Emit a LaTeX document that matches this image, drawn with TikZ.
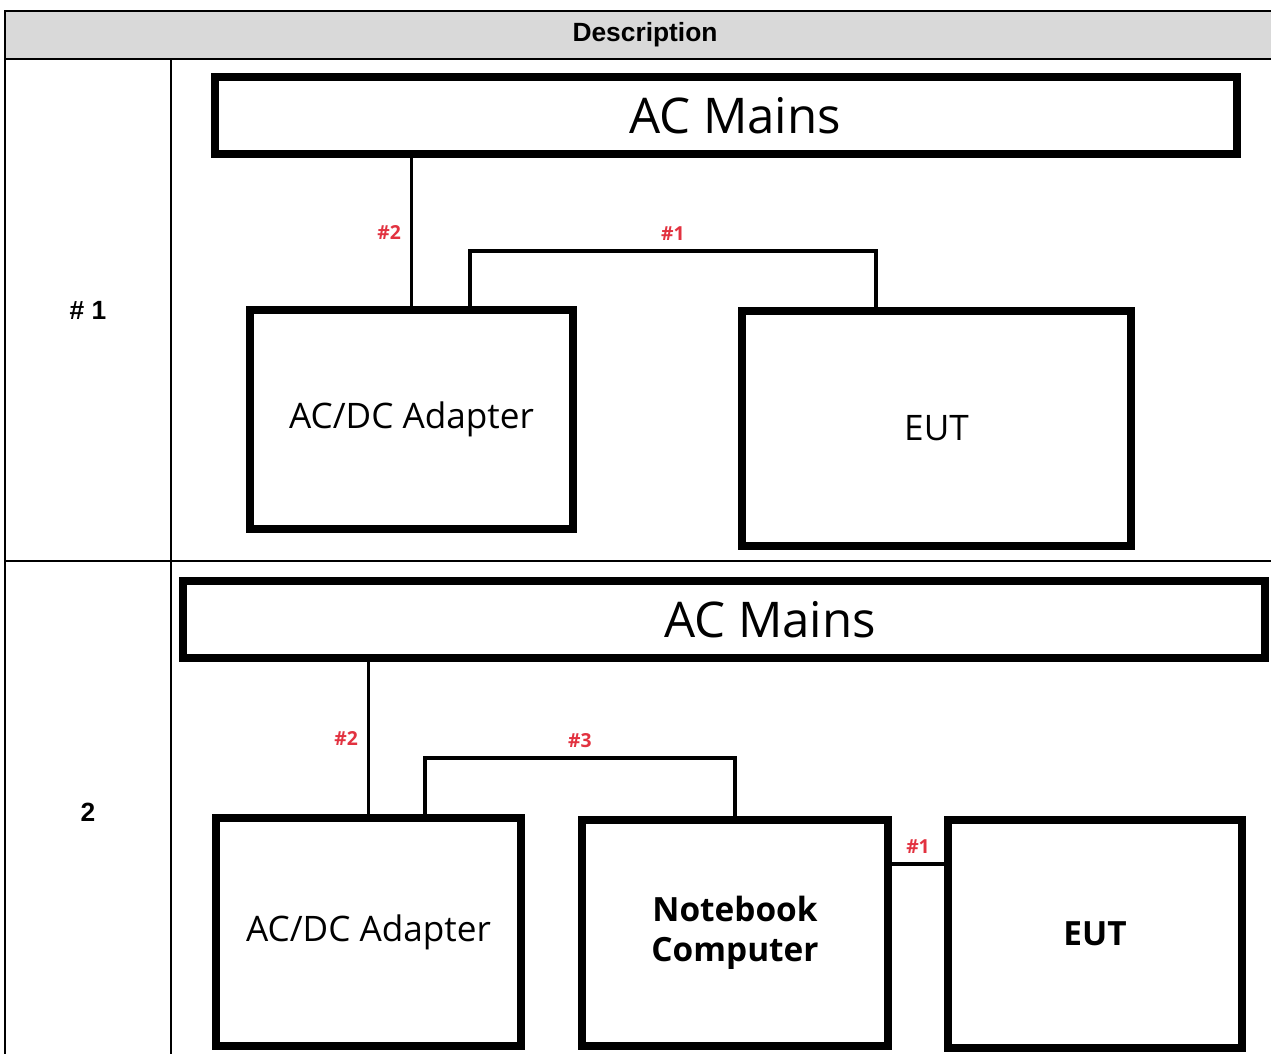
\documentclass[tikz,border=0pt]{standalone}
\usepackage{fontspec}
\setmainfont{Liberation Sans}
\newfontfamily\diagfont{Open Sans}
\definecolor{hdrgray}{RGB}{217,217,217}
\definecolor{tagred}{RGB}{226,50,64}
\usetikzlibrary{positioning}

\begin{document}
\begin{tikzpicture}[x=0.02cm,y=-0.02cm,
    grid/.style={line width=1.1pt},
    unit/.style={draw,line width=4.6pt,inner sep=0pt,align=center,
                 font=\diagfont\fontsize{20}{23}\selectfont},
    boldunit/.style={unit,font=\diagfont\bfseries\fontsize{19}{23}\selectfont},
    mains/.style={unit,minimum height=1.54cm},
    mainstext/.style={font=\diagfont\fontsize{28}{32}\selectfont,inner sep=0pt},
    wire/.style={line width=2.2pt},
    tag/.style={text=tagred,inner sep=1pt,
                font=\diagfont\bfseries\fontsize{11}{13}\selectfont},
    rowno/.style={font=\bfseries\fontsize{15}{18}\selectfont}]
  \useasboundingbox (0,0) rectangle (1271,1054);
  % table frame
  \fill[hdrgray] (5,11) rectangle (1271,59);
  \node[rowno] (desc) at (645,35) {Description};
  \draw[grid] (1271,11) -- (5,11) -- (5,1054);
  \draw[grid] (5,59) -- (1271,59);
  \draw[grid] (5,561) -- (1271,561);
  \draw[line width=0.9pt] (171,59) -- (171,1054);
  \node[rowno] (rowA) at (88,310) {\# 1};
  \node[rowno] (rowB) at (88,812) {2};

  % row 1
  \node[mains,minimum width=20.44cm,
        label={[mainstext,xshift=0.18cm]center:AC Mains}]
        (mainsA) at (726,115.5) {};
  \node[unit,minimum width=6.46cm,minimum height=4.38cm]
        (adapterA) at (411.5,419.5) {AC/DC Adapter};
  \node[unit,minimum width=7.78cm,minimum height=4.7cm]
        (eutA) at (936.5,428.5) {EUT};
  \draw[wire] (adapterA.north) -- (adapterA.north |- mainsA.south)
        node[midway,left=4pt,tag] {\#2};
  \draw[wire] ([xshift=1.17cm]adapterA.north) -- ++(0,1.1cm)
        -| ([xshift=-1.21cm]eutA.north) node[pos=0.25,above=4pt,tag] {\#1};

  % row 2
  \node[mains,minimum width=21.64cm,
        label={[mainstext,xshift=0.92cm]center:AC Mains}]
        (mainsB) at (724,619.5) {};
  \node[unit,minimum width=6.1cm,minimum height=4.56cm]
        (adapterB) at (368.5,932) {AC/DC Adapter};
  \node[boldunit,minimum width=6.12cm,minimum height=4.52cm]
        (notebook) at (735,933) {Notebook\\Computer};
  \node[boldunit,minimum width=5.88cm,minimum height=4.56cm]
        (eutB) at (1095,934) {EUT};
  \draw[wire] (adapterB.north) -- (adapterB.north |- mainsB.south)
        node[midway,left=4pt,tag] {\#2};
  \draw[wire] ([xshift=1.13cm]adapterB.north) -- ++(0,1.12cm)
        -| (notebook.north) node[pos=0.25,above=4pt,tag] {\#3};
  \draw[wire] ([yshift=1.38cm]notebook.east)
        -- ([yshift=1.38cm]notebook.east -| eutB.west)
        node[midway,above=4pt,tag] {\#1};
\end{tikzpicture}
\end{document}
